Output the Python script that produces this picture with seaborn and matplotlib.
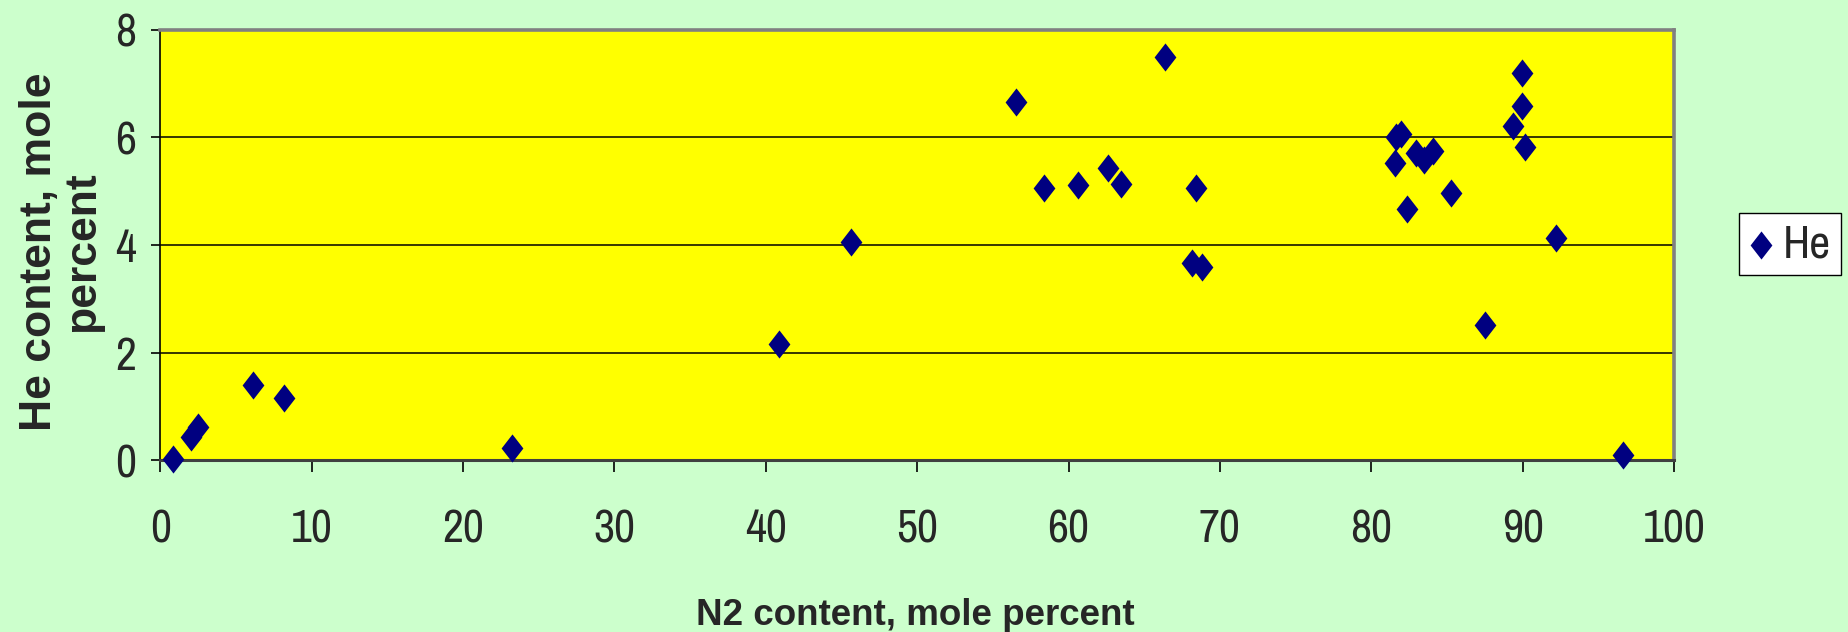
import matplotlib
matplotlib.use("Agg")
import matplotlib.pyplot as plt
import seaborn as sns
import pandas as pd
import logging
logging.getLogger("matplotlib.font_manager").setLevel(logging.ERROR)

# ---- data ----
n2_content = [0.82, 2.06, 2.5, 6.13, 8.19, 23.23, 40.89, 45.6, 56.5, 58.35,
              60.6, 62.64, 63.5, 66.36, 68.4, 68.14, 68.8, 81.97, 81.64, 81.55,
              82.36, 82.97, 83.46, 84.06, 85.25, 87.52, 89.36, 89.98, 89.98,
              90.18, 92.23, 96.6]
he_content = [0.02, 0.43, 0.61, 1.39, 1.16, 0.22, 2.15, 4.05, 6.65, 5.05,
              5.12, 5.43, 5.13, 7.48, 5.05, 3.67, 3.59, 6.05, 6.0, 5.52,
              4.66, 5.7, 5.58, 5.75, 4.97, 2.52, 6.2, 7.2, 6.58,
              5.82, 4.13, 0.1]
x_ticks = [0, 10, 20, 30, 40, 50, 60, 70, 80, 90, 100]
y_ticks = [0, 2, 4, 6, 8]
series_name = "He"
x_label = "N2 content, mole percent"
y_label = "He content, mole\npercent"

df = pd.DataFrame({"N2": n2_content, "He": he_content})

sns.set_style("white")
narrow = ["Liberation Sans Narrow", "Arial Narrow", "Archivo Narrow",
          "Roboto Condensed", "PT Sans Narrow", "Fira Sans Condensed",
          "Liberation Sans", "DejaVu Sans"]
bold = ["Liberation Sans", "Arimo", "DejaVu Sans"]
plt.rcParams["font.family"] = narrow

W, H = 1849, 632
fig = plt.figure(figsize=(W / 100, H / 100), dpi=100, facecolor="#CCFFCC")
ax = fig.add_axes([160.3 / W, 1 - 460.2 / H, (1674 - 160.3) / W, (460.2 - 29.5) / H])
ax.set_facecolor("#FFFF00")

# horizontal gridlines
for yv in y_ticks[1:-1]:
    ax.axhline(yv, color="black", lw=1.1, zorder=1)

diamond = [(0, 0.5), (0.3875, 0), (0, -0.5), (-0.3875, 0), (0, 0.5)]
sns.scatterplot(data=df, x="N2", y="He", ax=ax, marker=diamond, s=410,
                color="#000080", edgecolor="#000080", linewidth=0,
                label=series_name, zorder=3, clip_on=False)

ax.set_xlim(0, 100)
ax.set_ylim(0, 8)
ax.set_xticks(x_ticks)
ax.set_yticks(y_ticks)
ax.set_xlabel("")
ax.set_ylabel("")
ax.grid(False)

ax.tick_params(axis="x", direction="out", length=8.6, width=1.2, color="black",
               pad=26, labelsize=33, bottom=True)
ax.tick_params(axis="y", direction="out", length=6.5, width=1.2, color="black",
               pad=11, labelsize=33, left=True)
for lab in ax.get_xticklabels() + ax.get_yticklabels():
    lab.set_family(narrow)

for side in ["top", "right"]:
    ax.spines[side].set_color("#808080")
    ax.spines[side].set_linewidth(2.6)
ax.spines["left"].set_color("black")
ax.spines["left"].set_linewidth(1.2)
ax.spines["bottom"].set_color("#404040")
ax.spines["bottom"].set_linewidth(2.2)

fig.text(915.5 / W, 1 - 625 / H, x_label, ha="center", va="baseline",
         fontsize=26.5, fontweight="bold", family=bold)
fig.text(61 / W, 1 - 252 / H, y_label, ha="center", va="center", rotation=90,
         multialignment="center", fontsize=32, fontweight="bold", family=bold,
         linespacing=1.05)

leg = ax.legend(loc="center", bbox_to_anchor=(1790 / W, 1 - 244 / H),
                bbox_transform=fig.transFigure, frameon=True, fancybox=False,
                shadow=False, handletextpad=0.2, borderpad=0.22,
                handlelength=0.55, borderaxespad=0,
                prop={"family": narrow, "size": 33})
leg.get_frame().set_facecolor("white")
leg.get_frame().set_edgecolor("black")
leg.get_frame().set_linewidth(1.0)
leg.get_frame().set_alpha(1)

fig.savefig("out.png", dpi=100, facecolor=fig.get_facecolor())
